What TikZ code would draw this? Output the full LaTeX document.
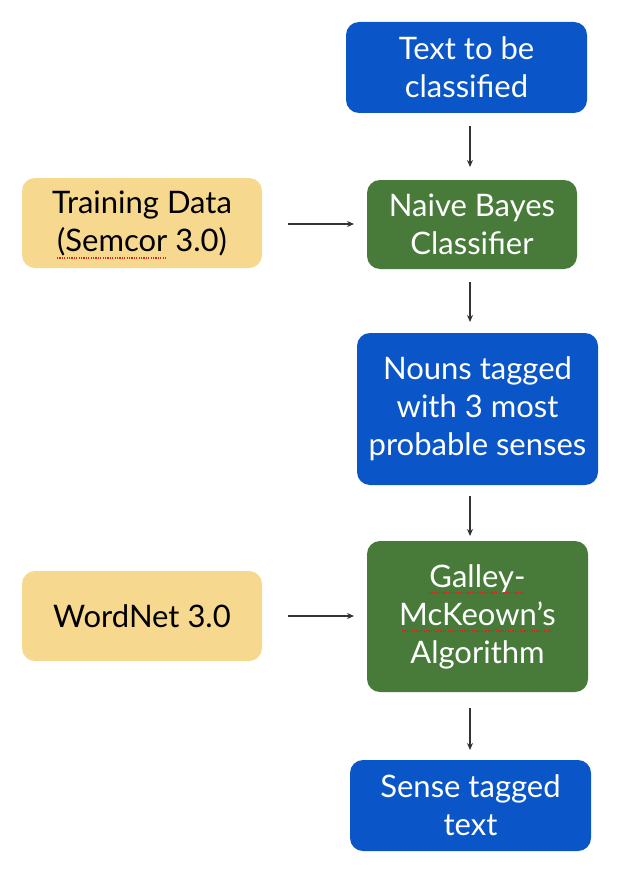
\documentclass[tikz,border=0pt]{standalone}
\usepackage{fontspec}
\setmainfont{Lato}
\usetikzlibrary{arrows.meta}
\definecolor{boxblue}{RGB}{10,85,200}
\definecolor{boxgreen}{RGB}{72,122,58}
\definecolor{boxyellow}{RGB}{246,216,142}
\definecolor{spellred}{RGB}{205,45,35}
\tikzset{
  base/.style={rounded corners=13pt, inner sep=0pt, align=center,
    font=\fontsize{31}{38}\selectfont},
  bluebox/.style={base, fill=boxblue, text=white},
  greenbox/.style={base, fill=boxgreen, text=white},
  yellowbox/.style={base, fill=boxyellow, text=black},
  flow/.style={draw=black!80, line width=1.1pt, -{Stealth[length=7pt,width=6pt]}},
  spell/.style={draw=spellred, line width=1.2pt, dash pattern=on 1.2pt off 1.2pt}
}
\begin{document}
\begin{tikzpicture}[x=1pt,y=-1pt]
\useasboundingbox (0,0) rectangle (630,872);
\node[bluebox, minimum width=241pt, minimum height=91pt] (text) at (466.5,67.5) {Text to be\\classified};
\node[greenbox, minimum width=210pt, minimum height=89pt] (nb) at (472,224.5) {Naive Bayes\\Classifier};
\node[yellowbox, minimum width=240pt, minimum height=90pt] (train) at (142,223) {Training Data\\(Semcor 3.0)};
\node[bluebox, minimum width=241pt, minimum height=152pt] (nouns) at (477.5,409) {Nouns tagged\\with 3 most\\probable senses};
\node[greenbox, minimum width=221pt, minimum height=151pt] (gm) at (477.5,616.5) {Galley-\\McKeown’s\\Algorithm};
\node[yellowbox, minimum width=240pt, minimum height=90pt] (wn) at (142,616) {WordNet 3.0};
\node[bluebox, minimum width=241pt, minimum height=91pt] (out) at (470.5,805.5) {Sense tagged\\text};

\coordinate (a1s) at (470,126); \coordinate (a1e) at (470,167);
\coordinate (a2s) at (470,282); \coordinate (a2e) at (470,322);
\coordinate (a3s) at (470,496); \coordinate (a3e) at (470,536);
\coordinate (a4s) at (470,708); \coordinate (a4e) at (470,750);
\coordinate (h1s) at (288,224); \coordinate (h1e) at (354,224);
\coordinate (h2s) at (288,616); \coordinate (h2e) at (354,616);
\draw[flow] (a1s) -- (a1e);
\draw[flow] (a2s) -- (a2e);
\draw[flow] (a3s) -- (a3e);
\draw[flow] (a4s) -- (a4e);
\draw[flow] (h1s) -- (h1e);
\draw[flow] (h2s) -- (h2e);

% spell-check underlines
\draw[spell] (57,258) -- (166,258);
\draw[spell] (429,593) -- (523,593);
\draw[spell] (402,631) -- (553,631);
\end{tikzpicture}
\end{document}
